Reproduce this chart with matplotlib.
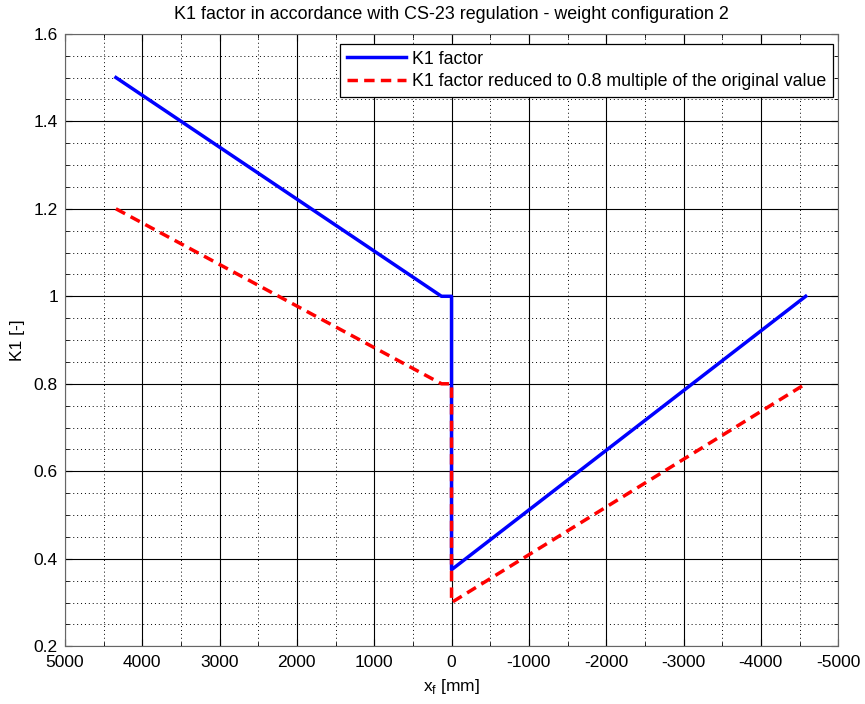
import matplotlib
matplotlib.use("Agg")
import matplotlib.pyplot as plt
from matplotlib.ticker import MultipleLocator, FuncFormatter

plt.rcParams['font.family'] = ['Liberation Sans', 'DejaVu Sans']
plt.rcParams['axes.unicode_minus'] = False

# CG position [mm] and K1 factor
x_f = [4340, 130, 0, 0, -4580]
k1 = [1.5, 1.0, 1.0, 0.375, 1.0]
reduction = 0.8
k1_reduced = [v * reduction for v in k1]

fig = plt.figure(figsize=(8.65, 7.04), dpi=100)
ax = fig.add_axes([0.075, 0.082, 0.894, 0.870])

ax.plot(x_f, k1, color='#0000ff', lw=2.5, label='K1 factor')
ax.plot(x_f, k1_reduced, color='#ff0000', lw=2.5, ls=(0, (3, 1.8)),
        label='K1 factor reduced to 0.8 multiple of the original value')

ax.set_xlim(5000, -5000)
ax.set_ylim(0.2, 1.6)
ax.xaxis.set_major_locator(MultipleLocator(1000))
ax.xaxis.set_minor_locator(MultipleLocator(500))
ax.yaxis.set_major_locator(MultipleLocator(0.2))
ax.yaxis.set_minor_locator(MultipleLocator(0.05))
ax.xaxis.set_major_formatter(FuncFormatter(lambda v, p: f'{v:.0f}'))
ax.yaxis.set_major_formatter(FuncFormatter(lambda v, p: f'{v:g}'))

ax.grid(which='major', color='black', lw=0.8, ls='-')
ax.grid(which='minor', color='black', lw=0.7, ls=(0, (1, 3)))
ax.set_axisbelow(True)
ax.tick_params(which='both', direction='in', top=True, right=True, labelsize=12.5)
ax.tick_params(axis='x', which='major', length=5, pad=6)
ax.tick_params(axis='y', which='major', length=5, pad=5)
ax.tick_params(which='minor', length=3)
for s in ax.spines.values():
    s.set_color('#666666')

ax.set_xlabel(r'x$_\mathregular{f}$ [mm]', fontsize=12.5, labelpad=5)
ax.set_ylabel('K1 [-]', fontsize=12.5, labelpad=6)
ax.set_title('K1 factor in accordance with CS-23 regulation - weight configuration 2',
             fontsize=12.9, pad=11)

leg = ax.legend(loc='upper right', bbox_to_anchor=(0.9935, 0.984),
                fontsize=12.8, fancybox=False, framealpha=1,
                edgecolor='black', handlelength=3.3, handletextpad=0.35,
                borderaxespad=0.0, borderpad=0.4, labelspacing=0.3)
leg.get_frame().set_linewidth(0.9)

fig.savefig('out.png', dpi=100)
